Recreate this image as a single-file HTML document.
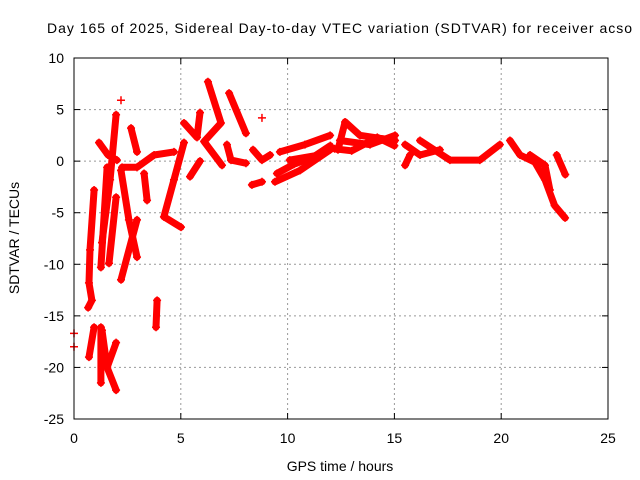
<!DOCTYPE html>
<html><head><meta charset="utf-8"><style>
body{margin:0;background:#fff;}
svg{display:block;font-family:"Liberation Sans",sans-serif;}
</style></head><body>
<svg id="chart" width="640" height="480" viewBox="0 0 640 480" xmlns="http://www.w3.org/2000/svg">
<rect width="640" height="480" fill="#fff"/>
<text x="47" y="33" font-size="14" textLength="585" lengthAdjust="spacing">Day 165 of 2025, Sidereal Day-to-day VTEC variation (SDTVAR) for receiver acso</text>
<text x="340" y="471" font-size="14" text-anchor="middle">GPS time / hours</text>
<text transform="translate(19,238) rotate(-90)" font-size="14" text-anchor="middle">SDTVAR / TECUs</text>
<g id="grid"></g><g id="ticks"></g><g id="marks"></g>
<rect x="74" y="58" width="534" height="361" fill="none" stroke="#000" stroke-width="1"/>
</svg>
<script>
const xTicks=[0,5,10,15,20,25];
const yTicks=[10,5,0,-5,-10,-15,-20,-25];
const trackT=[
[0.94,0.75,0.70,0.84,0.66],
[1.97,1.69,1.31],
[1.17,1.59,2.01],
[1.97,1.64],
[1.55,1.26],
[2.2,2.57,2.95],
[2.95,2.2],
[2.25,2.95,3.75,4.68],
[3.28,3.42],
[5.15,4.68,4.21,5.01],
[2.67,2.95],
[5.15,5.76,5.9],
[5.43,5.9],
[6.27,6.88,6.09,6.93],
[7.26,8.05],
[7.16,7.35,8.05],
[8.38,8.8,9.18],
[8.33,8.8],
[9.41,10.58,11.99],
[9.64,10.81,11.99],
[10.1,11.5],
[9.5,10.3,11.2,12.0],
[12.36,12.69,13.39,15.03],
[12.45,13.86,15.03],
[12.2,13.0,14.2,15.0],
[15.5,16.2,17.13],
[15.5,15.73],
[16.2,17.6,19.0,19.94],
[20.41,20.88,21.58,22.05,22.5,22.99],
[21.35,22.05,22.28],
[22.6,23.0],
[0.70,0.94],
[1.31,1.55,1.97],
[1.97,1.55],
[1.26,1.26],
[3.89,3.84],
[2.2],[8.8],[0],[0]
];
const trackV=[
[-2.8,-8.6,-11.8,-13.5,-14.2],
[4.5,-1.8,-7.9],
[1.8,0.6,0.1],
[-3.5,-9.9],
[-0.6,-10.3],
[-0.9,-5.7,-9.3],
[-5.7,-11.5],
[-0.6,-0.6,0.6,0.9],
[-1.2,-3.8],
[1.8,-1.8,-5.4,-6.4],
[3.2,0.9],
[3.7,2.3,4.7],
[-1.5,0],
[7.7,3.7,1.9,-0.4],
[6.6,2.7],
[1.6,0.1,-0.2],
[1.1,0.1,0.6],
[-2.3,-2],
[-2,-0.9,1.1],
[0.9,1.6,2.5],
[0.1,0.6],
[-1.2,-0.3,0.4,1.5],
[1.1,3.8,2.5,2.0],
[2,1.6,2.5],
[1.2,1.0,2.3,1.5],
[1.6,0.6,1.1],
[-0.4,0.6],
[2,0.1,0.1,1.6],
[2,0.6,-0.1,-1.8,-4.3,-5.5],
[0.6,-0.4,-2.8],
[0.6,-1.3],
[-19,-16.1],
[-16.4,-20,-22.2],
[-17.6,-20],
[-16.1,-21.5],
[-13.5,-16.1],
[5.9],[4.2],[-16.7],[-18]
];
const NS="http://www.w3.org/2000/svg";
const X0=74,X1=608,Y0=419,Y1=58;
function sx(t){return X0+(t-0)/(25-0)*(X1-X0);}
function sy(v){return Y0-(v+25)/(10+25)*(Y0-Y1);}
const grid=document.getElementById('grid'),ticks=document.getElementById('ticks'),marks=document.getElementById('marks');
function mk(tag,attrs,parent){const e=document.createElementNS(NS,tag);for(const k in attrs)e.setAttribute(k,attrs[k]);parent.appendChild(e);return e;}
xTicks.forEach(t=>{
 const x=sx(t);
 if(t>0&&t<25){const g=mk('line',{x1:x,y1:Y1,x2:x,y2:Y0,stroke:'#999','stroke-dasharray':'2,3'},grid);
 
 }
 mk('line',{x1:x,y1:Y0,x2:x,y2:Y0-6,stroke:'#000'},ticks);
 mk('line',{x1:x,y1:Y1,x2:x,y2:Y1+6,stroke:'#000'},ticks);
 const l=mk('text',{x:x,y:Y0+24,'font-size':14,'text-anchor':'middle'},ticks);l.textContent=t;
 
 
});
yTicks.forEach(v=>{
 const y=sy(v);
 if(v<10&&v>-25){const g=mk('line',{x1:X0,y1:y,x2:X1,y2:y,stroke:'#999','stroke-dasharray':'2,3'},grid);
 
 }
 mk('line',{x1:X0,y1:y,x2:X0+6,y2:y,stroke:'#000'},ticks);
 mk('line',{x1:X1,y1:y,x2:X1-6,y2:y,stroke:'#000'},ticks);
 const l=mk('text',{x:X0-10,y:y+5,'font-size':14,'text-anchor':'end'},ticks);l.textContent=v;
 
 
});
trackT.forEach((ts,i)=>{
 const vs=trackV[i];
 const pts=ts.map((t,j)=>sx(t).toFixed(1)+','+sy(vs[j]).toFixed(1)).join(' ');
 if(ts.length>1){
  const p=mk('polyline',{points:pts,fill:'none',stroke:'#f00','stroke-width':7,'stroke-linejoin':'round','stroke-linecap':'round'},marks);
  
  
 }
 ts.forEach((t,j)=>{
  const x=sx(t),y=sy(vs[j]);
  const m=mk('path',{d:`M${x-4},${y}H${x+4}M${x},${y-4}V${y+4}`,stroke:'#f00','stroke-width':1.5},marks);
  
  
 });
});
</script>
</body></html>
